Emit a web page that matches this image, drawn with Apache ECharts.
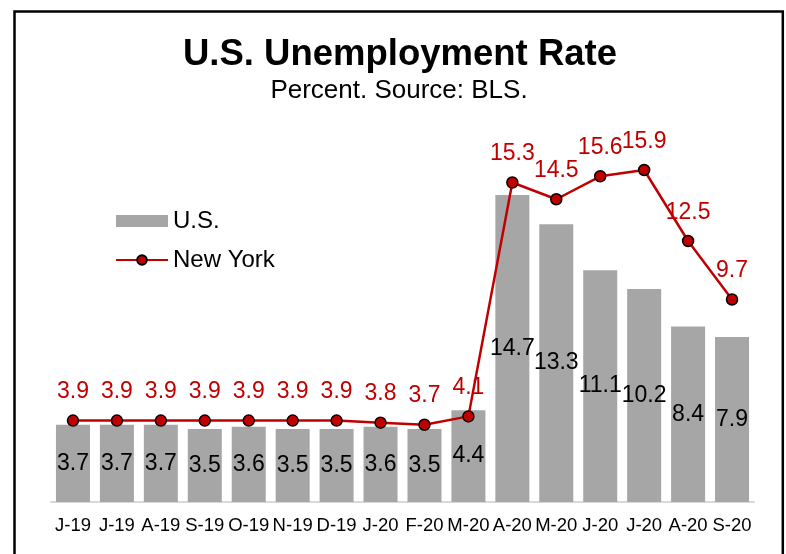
<!DOCTYPE html>
<html>
<head>
<meta charset="utf-8">
<title>U.S. Unemployment Rate</title>
<script src="https://cdn.jsdelivr.net/npm/echarts@6/dist/echarts.min.js"></script>
<style>
  html, body { margin: 0; padding: 0; background: #ffffff; }
  #chart { width: 786px; height: 554px; }
</style>
</head>
<body>
<div id="chart"></div>
<script>
// Monthly labels, Jun 2019 through Sep 2020
const months = ['J-19', 'J-19', 'A-19', 'S-19', 'O-19', 'N-19', 'D-19', 'J-20',
                'F-20', 'M-20', 'A-20', 'M-20', 'J-20', 'J-20', 'A-20', 'S-20'];

// Unemployment rate, percent
const usRate = [3.7, 3.7, 3.7, 3.5, 3.6, 3.5, 3.5, 3.6, 3.5, 4.4, 14.7, 13.3, 11.1, 10.2, 8.4, 7.9];
const nyRate = [3.9, 3.9, 3.9, 3.9, 3.9, 3.9, 3.9, 3.8, 3.7, 4.1, 15.3, 14.5, 15.6, 15.9, 12.5, 9.7];

const FONT = '"Liberation Sans", Arial, sans-serif';
const RED = '#c00000';
const GRAY = '#a6a6a6';

const chart = echarts.init(document.getElementById('chart'), null, { renderer: 'canvas' });

chart.setOption({
  animation: false,
  backgroundColor: '#ffffff',
  textStyle: { fontFamily: FONT },
  title: [
    {
      text: 'U.S. Unemployment Rate',
      left: 400,
      top: 36,
      padding: 0,
      textAlign: 'center',
      textStyle: { fontFamily: FONT, fontSize: 36.5, fontWeight: 'bold', color: '#000', lineHeight: 38 }
    },
    {
      text: 'Percent. Source: BLS.',
      left: 399,
      top: 78,
      padding: 0,
      textAlign: 'center',
      textStyle: { fontFamily: FONT, fontSize: 26, fontWeight: 'normal', color: '#000', lineHeight: 26 }
    }
  ],
  legend: {
    orient: 'vertical',
    left: 115,
    top: 209,
    padding: 0,
    itemWidth: 52,
    itemHeight: 12,
    itemGap: 15,
    textStyle: { fontFamily: FONT, fontSize: 24, color: '#000', lineHeight: 24 },
    data: [
      { name: 'U.S.', icon: 'rect' },
      { name: 'New York' }
    ]
  },
  grid: { left: 51, right: 32, top: 84.4, bottom: 52, containLabel: false },
  xAxis: {
    type: 'category',
    data: months,
    axisTick: { show: false },
    axisLine: { lineStyle: { color: '#d9d9d9', width: 2 } },
    axisLabel: { fontFamily: FONT, fontSize: 18.5, color: '#000', margin: 14, interval: 0 }
  },
  yAxis: {
    type: 'value',
    min: 0,
    max: 20,
    show: false,
    splitLine: { show: false }
  },
  series: [
    {
      name: 'U.S.',
      type: 'bar',
      data: usRate,
      barWidth: 34,
      itemStyle: { color: GRAY },
      label: {
        show: true,
        position: 'inside',
        fontFamily: FONT,
        fontSize: 23,
        color: '#000'
      }
    },
    {
      name: 'New York',
      type: 'line',
      data: nyRate,
      symbol: 'circle',
      symbolSize: 11,
      lineStyle: { color: RED, width: 2.5 },
      itemStyle: { color: RED, borderColor: '#000', borderWidth: 1.5 },
      label: {
        show: true,
        position: 'top',
        distance: 11,
        fontFamily: FONT,
        fontSize: 23,
        lineHeight: 23,
        color: RED
      },
      z: 3
    }
  ],
  graphic: [
    {
      type: 'rect',
      silent: true,
      z: 100,
      shape: { x: 14.5, y: 11.5, width: 768.3, height: 600 },
      style: { fill: 'none', stroke: '#000', lineWidth: 2.5 }
    }
  ]
});
</script>
</body>
</html>
